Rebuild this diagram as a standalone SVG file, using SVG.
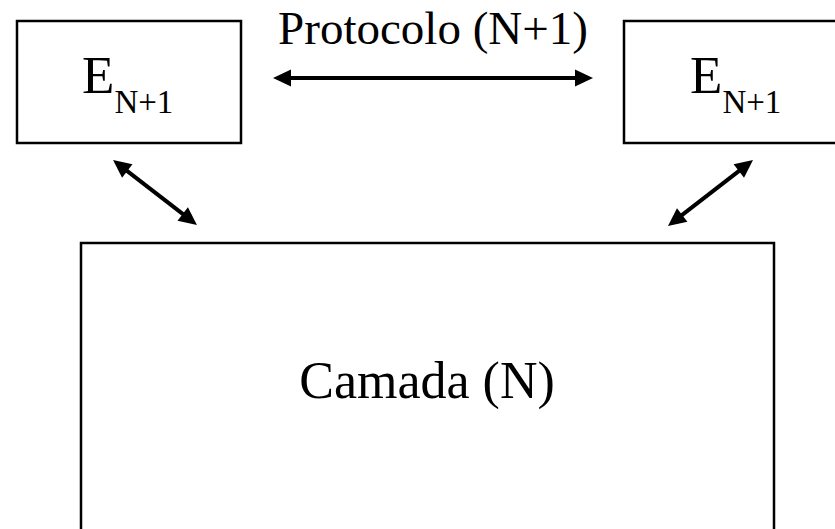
<svg xmlns="http://www.w3.org/2000/svg" width="835" height="529" viewBox="0 0 835 529">
  <style>
    .box { fill: #ffffff; stroke: #000000; stroke-width: 2.5; }
    .t { font-family: "Liberation Serif", "Times New Roman", serif; fill: #000000; }
    .conn { stroke: #000000; stroke-width: 4; fill: none; marker-start: url(#ah); marker-end: url(#ah); }
  </style>
  <defs>
    <marker id="ah" markerUnits="userSpaceOnUse" markerWidth="24" markerHeight="24" viewBox="-4 -12 24 24" refX="0" refY="0" orient="auto-start-reverse">
      <path d="M-2,-8.5 L16,0 L-2,8.5 Z" fill="#000000"/>
    </marker>
  </defs>
  <rect x="0" y="0" width="835" height="529" fill="#ffffff"/>
  <g id="node-e-left">
    <rect class="box" x="17" y="21" width="224" height="122"/>
    <text class="t" x="82" y="93" font-size="53">E<tspan font-size="33" dy="20">N+1</tspan></text>
  </g>
  <g id="node-e-right">
    <rect class="box" x="624" y="21" width="224" height="122"/>
    <text class="t" x="690" y="93" font-size="53">E<tspan font-size="33" dy="20">N+1</tspan></text>
  </g>
  <g id="node-camada">
    <rect class="box" x="81" y="243" width="693" height="300"/>
    <text class="t" x="427" y="398" font-size="52" text-anchor="middle">Camada (N)</text>
  </g>
  <g id="label-protocolo">
    <text class="t" x="433" y="44" font-size="47" text-anchor="middle">Protocolo (N+1)</text>
  </g>
  <g id="connectors">
    <line class="conn" x1="289" y1="78" x2="577" y2="78"/>
    <line class="conn" x1="125.7" y1="169.8" x2="184.3" y2="215.2"/>
    <line class="conn" x1="740.4" y1="169.8" x2="680.6" y2="216.2"/>
  </g>
</svg>
